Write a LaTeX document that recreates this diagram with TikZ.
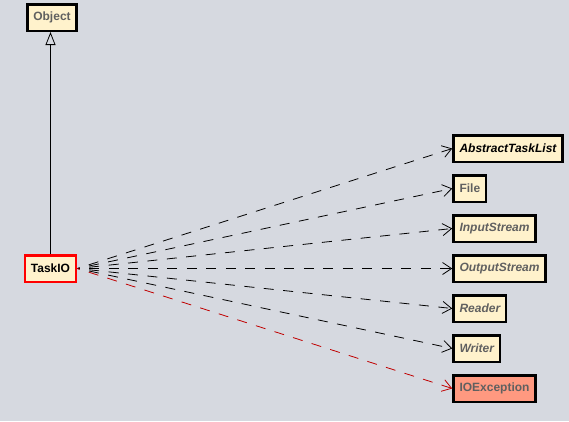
\documentclass[tikz,border=0pt]{standalone}
\usepackage{fontspec}
\setmainfont{Liberation Sans}
\usetikzlibrary{arrows.meta}
\definecolor{bggray}{RGB}{214,217,224}
\definecolor{clsfill}{RGB}{255,242,204}
\definecolor{excfill}{RGB}{255,153,128}
\definecolor{clstext}{RGB}{96,96,96}
\definecolor{deplinered}{RGB}{192,0,0}
\tikzset{
  cls/.style={draw=black,line width=2.5pt,fill=clsfill,inner xsep=6pt,inner ysep=0pt,
    minimum height=26.5pt,font=\fontsize{12}{14}\selectfont\bfseries,text=clstext},
  abstr/.style={font=\fontsize{12}{14}\selectfont\bfseries\itshape},
  dep/.style={line width=0.8pt,dash pattern=on 10pt off 9.5pt,dash phase=7.5pt,
    -{Straight Barb[length=9pt,width=12pt,line width=0.8pt]}},
  inherit/.style={line width=0.8pt,-{Triangle[open,length=13pt,width=10pt,line width=0.8pt]}}
}
\begin{document}
\begin{tikzpicture}[x=1pt,y=-1pt]
\fill[bggray] (0,0) rectangle (569,421);
\useasboundingbox (0,0) rectangle (569,421);
% classes
\node[cls] (Object) at (52,17.5) {Object};
\node[cls,draw=red,text=black] (TaskIO) at (50.5,268.5) {TaskIO};
\node[cls,abstr,text=black,anchor=west] (AbstractTaskList) at (452.25,148.5) {AbstractTaskList};
\node[cls,anchor=west] (File) at (452.25,188.5) {File};
\node[cls,abstr,anchor=west] (InputStream) at (452.25,228.5) {InputStream};
\node[cls,abstr,anchor=west] (OutputStream) at (452.25,268.5) {OutputStream};
\node[cls,abstr,anchor=west] (Reader) at (452.25,308.5) {Reader};
\node[cls,abstr,anchor=west] (Writer) at (452.25,348.5) {Writer};
\node[cls,fill=excfill,anchor=west] (IOException) at (452.25,388.5) {IOException};
% generalization
\draw[inherit] (TaskIO.north) -- (TaskIO.north |- Object.south);
% dependencies
\foreach \t in {AbstractTaskList,File,InputStream,OutputStream,Reader,Writer}
  \draw[dep] (TaskIO.east) -- (\t.west);
\draw[dep,deplinered] (TaskIO.east) -- (IOException.west);
\end{tikzpicture}
\end{document}
